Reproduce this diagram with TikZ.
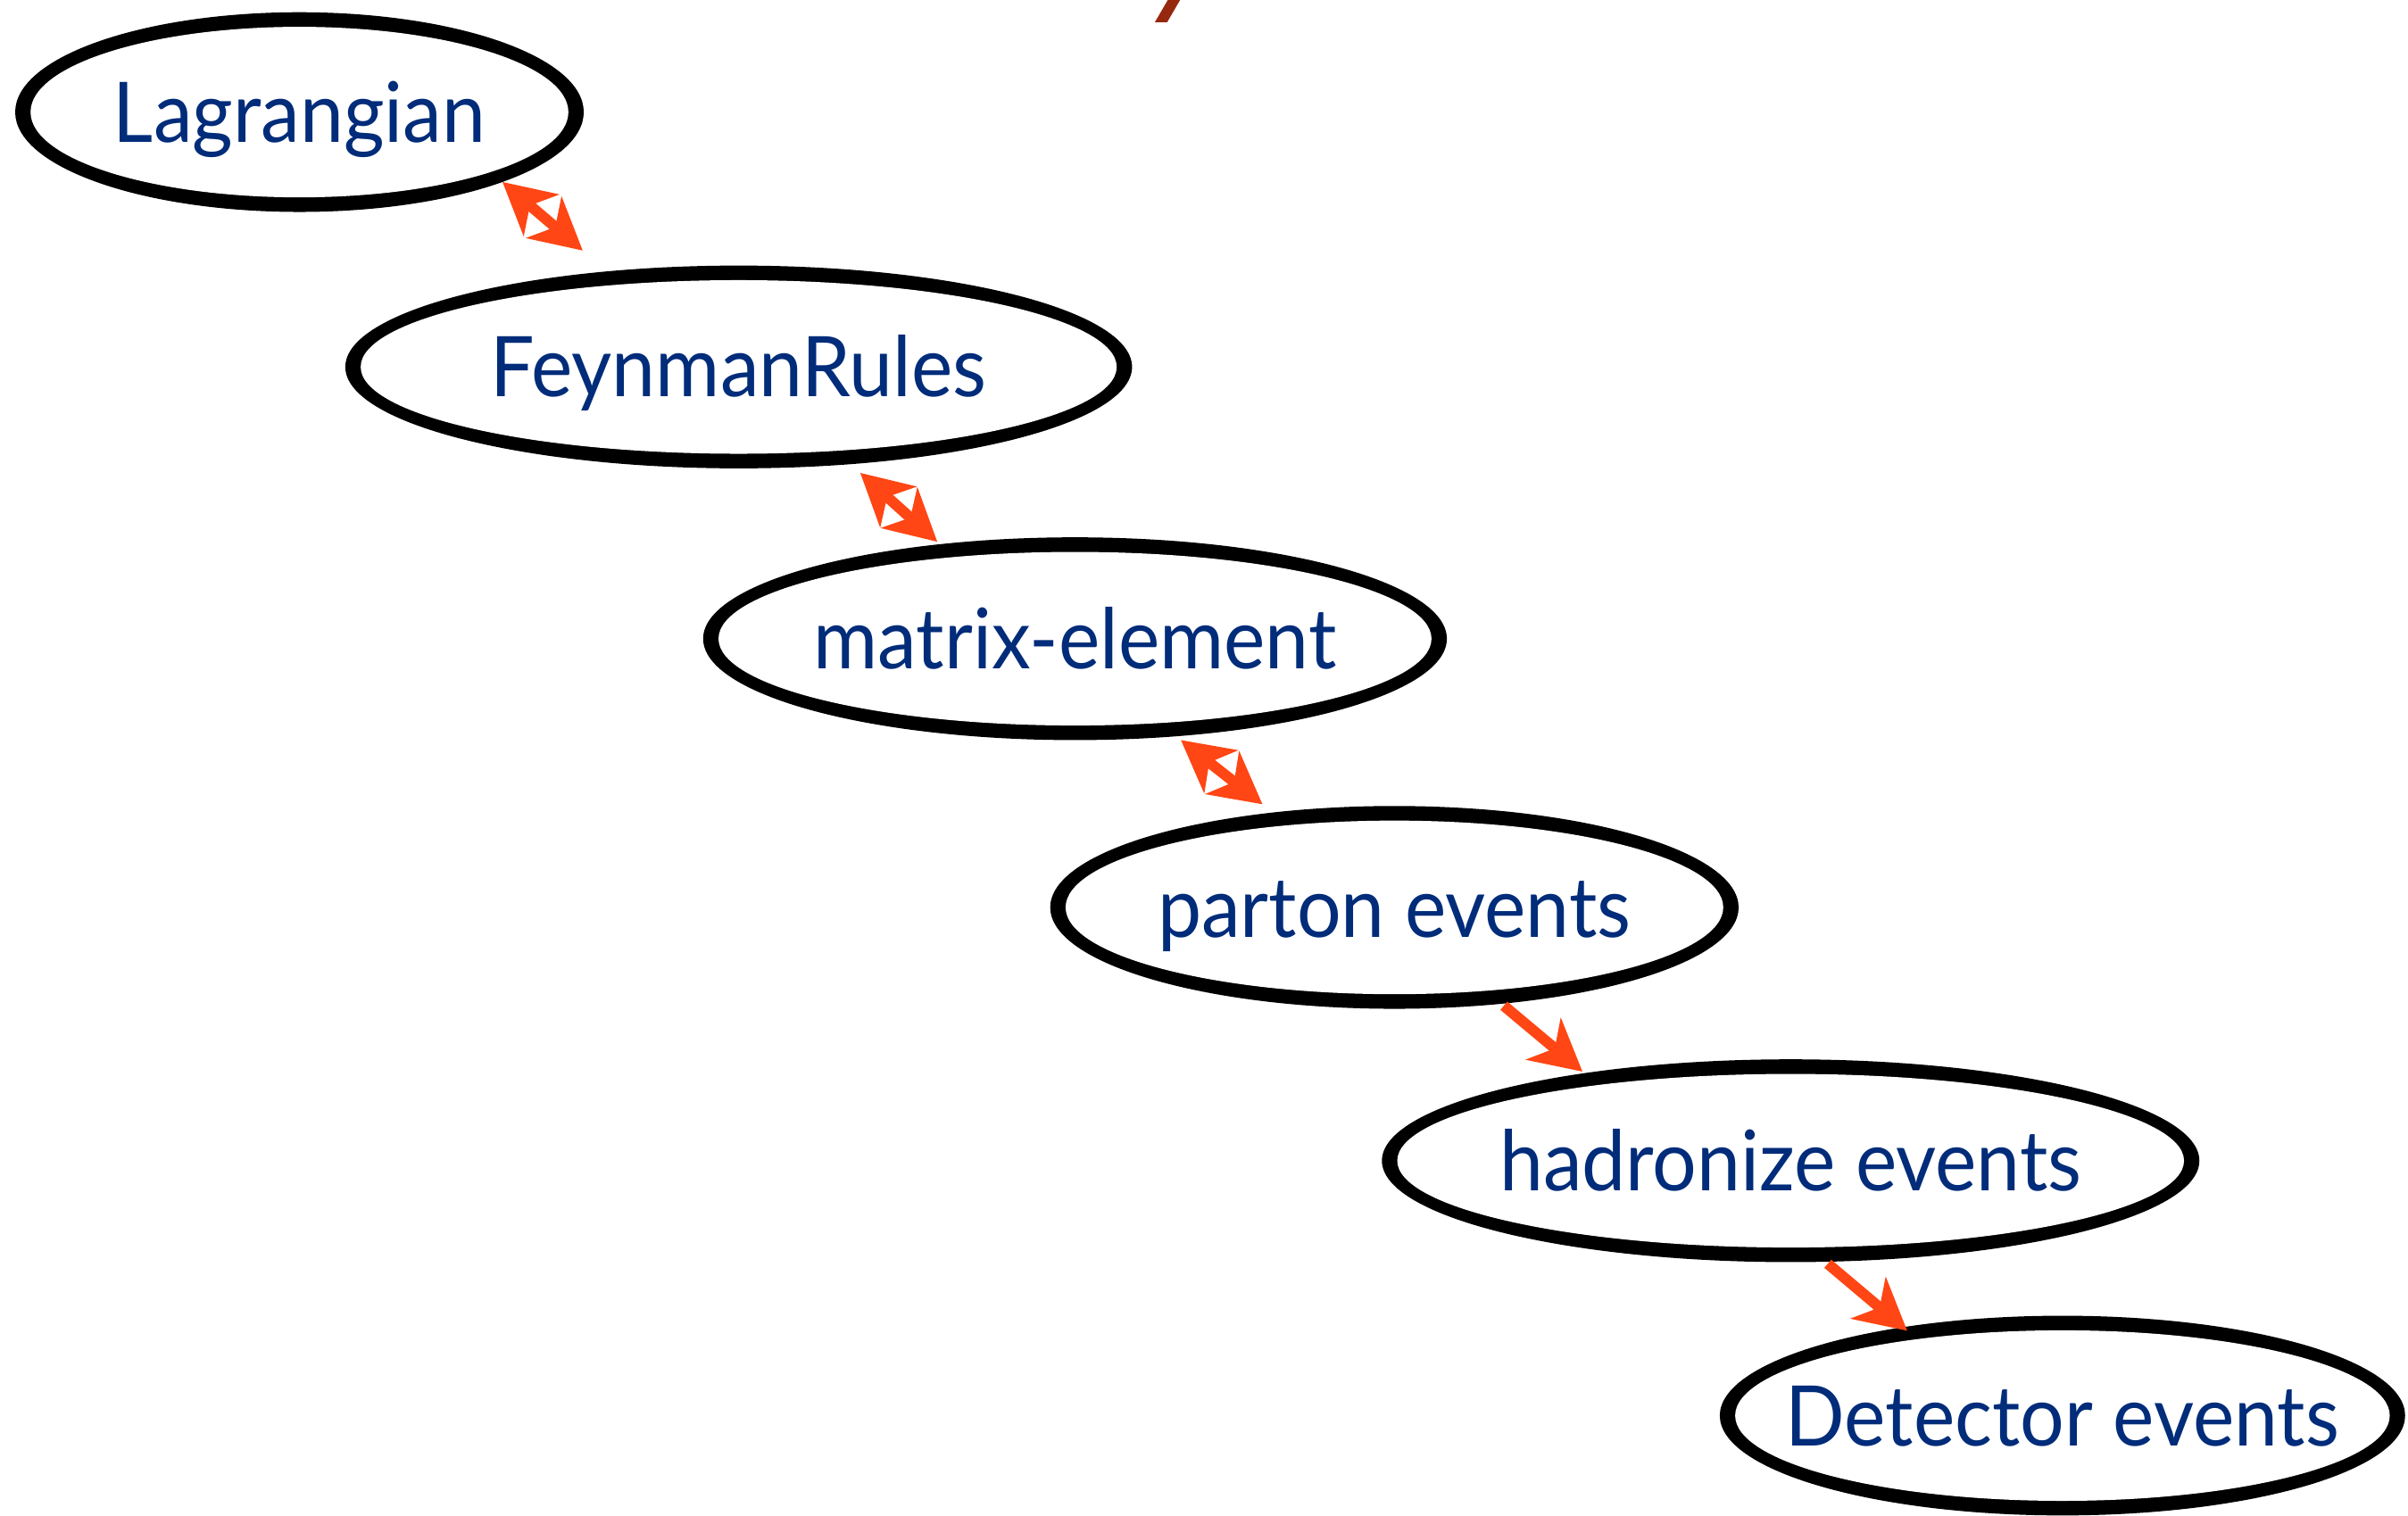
\documentclass[tikz,border=0pt]{standalone}
\usepackage{fontspec}
\setmainfont[FakeStretch=0.935]{Lato}
\usetikzlibrary{arrows.meta,shapes.geometric}
\definecolor{labelblue}{RGB}{0,44,122}
\definecolor{flow}{RGB}{255,70,20}
\definecolor{rust}{RGB}{150,40,15}
\tikzset{
  % brush-stroke ellipse: black ellipse with a slightly turned white ellipse inside
  stage/.style 2 args={ellipse, fill=black, inner sep=0pt, outer sep=0pt,
    minimum width={2*#1cm}, minimum height={2*#2cm},
    text=labelblue, font=\fontsize{15.5}{18}\selectfont,
    text height=0.39cm, text depth=0pt,
    path picture={\fill[white, rotate around={-3.6:(path picture bounding box.center)}]
      (path picture bounding box.center) ellipse [x radius={#1cm-0.10cm}, y radius={#2cm-0.095cm}];}},
  tip/.tip={Stealth[length=0.33cm,width=0.35cm,inset=0.095cm]},
  link/.style={draw=flow, line width=0.07cm, -tip},
  twoway/.style={draw=flow, line width=0.07cm, tip-tip}
}
\begin{document}
\begin{tikzpicture}[x=0.01cm,y=-0.01cm]
\useasboundingbox (0,0) rectangle (1568,987);

\node[stage={1.85}{0.65}] (lag) at (195,73)  {\makebox[0pt]{Lagrangian}};
\node[stage={2.56}{0.66}] (fey) at (481,239) {\makebox[0pt]{FeynmanRules}};
\node[stage={2.42}{0.66}] (mat) at (700,416) {\makebox[0pt]{matrix-element}};
\node[stage={2.24}{0.66}] (par) at (908,591) {\makebox[0pt]{parton events}};
\node[stage={2.66}{0.66}] (had) at (1166,756) {\makebox[0pt]{hadronize events}};
\node[stage={2.23}{0.65}] (det) at (1343,922) {\makebox[0pt]{Detector events}};

\draw[twoway, shorten >=0.209cm] (lag.-19) -- (fey.144);
\draw[twoway, shorten <=0.085cm, shorten >=0.024cm] (fey.-41) -- (mat.145);
\draw[twoway, shorten <=0.04cm, shorten >=0.087cm] (mat.-44) -- (par.142.5);
\draw[link, shorten <=0.02cm, shorten >=0.016cm] (par.-42.5) -- (had.157);
\draw[link, shorten <=0.02cm, shorten >=-0.036cm] (had.-71) -- (det.151);

% stroke entering from the top edge
\fill[rust] (752,14.5) -- (760,14.5) -- (769,-1) -- (761,-1) -- cycle;
\end{tikzpicture}
\end{document}
